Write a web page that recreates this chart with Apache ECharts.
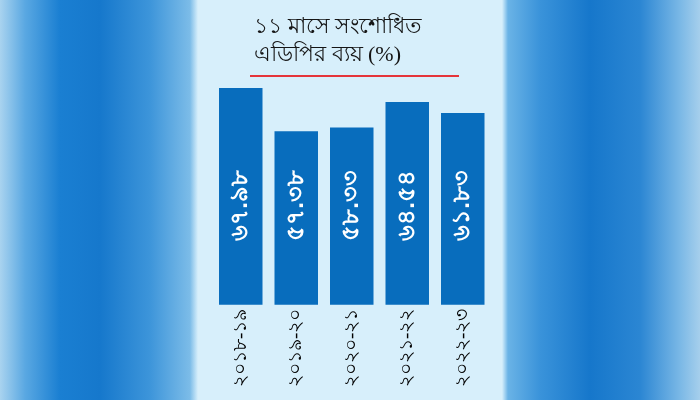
<!DOCTYPE html>
<html><head><meta charset="utf-8">
<script src="https://cdn.jsdelivr.net/npm/echarts@6/dist/echarts.min.js"></script>
<style>
html,body{margin:0;padding:0;}
#c{width:700px;height:400px;
background:linear-gradient(to right,#a9d3ef 0px,#5aa8e2 25px,#1a7fd2 60px,#1678cc 100px,#3d95da 150px,#7cbce8 190px,#d7effb 198px,#d7effb 502px,#6ab3e6 508px,#3a93da 540px,#1677cb 590px,#2b86d3 640px,#7ab8e6 680px,#a6cfec 700px);}
</style>
</head><body><div id="c"></div>
<script>
var categories = ['২০১৮-১৯', '২০১৯-২০', '২০২০-২১', '২০২১-২২', '২০২২-২৩'];
var values = [67.98, 57.38, 58.33, 64.54, 61.83];
var titleLines = ['১১ মাসে সংশোধিত', 'এডিপির ব্যয় (%)'];

var bnDigits = ['০','১','২','৩','৪','৫','৬','৭','৮','৯'];
function toBn(s){ return String(s).replace(/[0-9]/g, function(d){ return bnDigits[+d]; }); }

var chart = echarts.init(document.getElementById('c'));
chart.setOption({
  backgroundColor: 'transparent',
  animation: false,
  title: {
    text: titleLines.join('\n'),
    left: 249, top: 8,
    textStyle: { fontFamily: 'serif', fontSize: 22, fontWeight: 'normal', color: '#151515', lineHeight: 28 }
  },
  graphic: [{
    type: 'line', shape: { x1: 250, y1: 76, x2: 459, y2: 76 },
    style: { stroke: '#e5343a', lineWidth: 2 }
  }],
  grid: { left: 213, right: 209.5, top: 79.7, bottom: 95.3 },
  xAxis: {
    type: 'category', data: categories,
    axisLine: { show: false }, axisTick: { show: false },
    axisLabel: { rotate: 90, margin: 4, fontFamily: 'serif', fontSize: 19, color: '#000000', interval: 0 }
  },
  yAxis: {
    type: 'value', min: 15, max: 70, show: false,
    splitLine: { show: false }
  },
  series: [{
    type: 'bar', data: values, barWidth: 43.5,
    itemStyle: { color: '#086dbd' },
    label: {
      show: true, position: 'insideBottom', distance: 64, rotate: 90,
      align: 'left', verticalAlign: 'middle',
      color: '#ffffff', fontSize: 24, fontWeight: 'bold', fontFamily: 'sans-serif',
      formatter: function(p){ return toBn(p.value.toFixed(2)); }
    }
  }]
});
</script></body></html>
